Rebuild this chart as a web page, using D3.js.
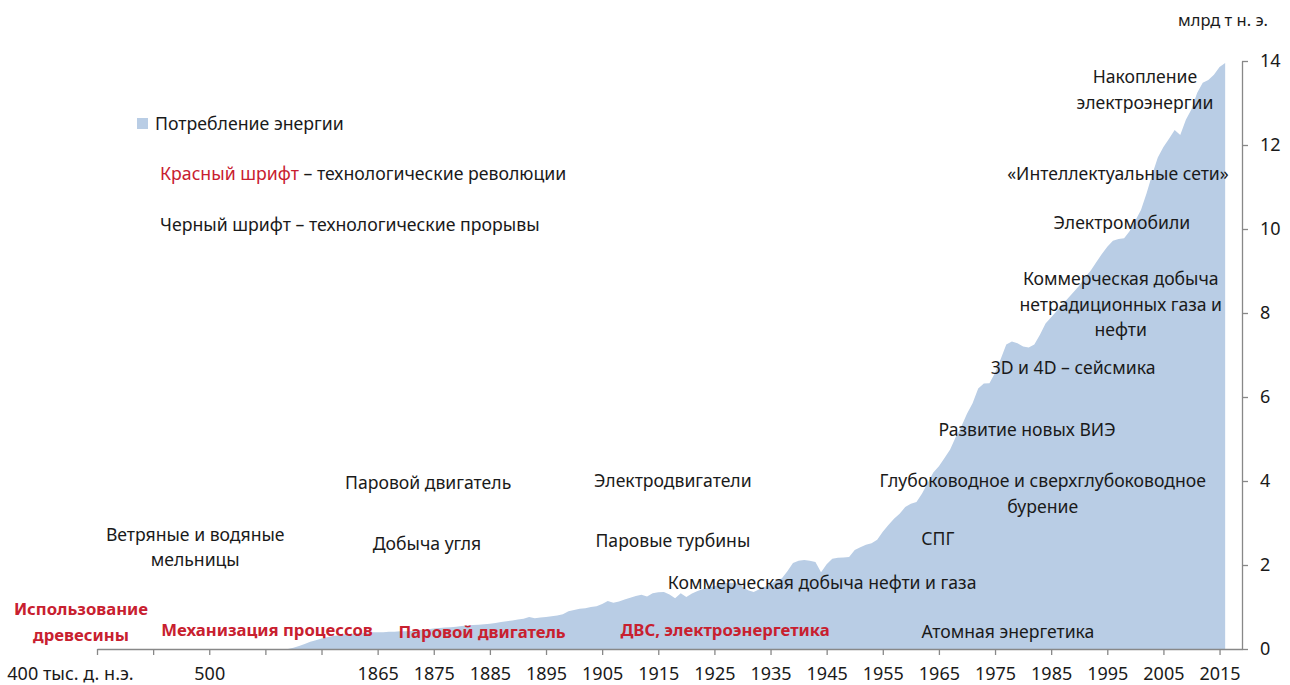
<!DOCTYPE html>
<html lang="ru">
  <head>
    <meta charset="utf-8"/>
    <script src="https://d3js.org/d3.v7.min.js"></script>
    <title>Потребление энергии</title>
    <style>
      body { margin: 0; background: #fff; }
      text { font-family: "Noto Sans", sans-serif; }
    </style>
  </head>
  <body>
    <svg id="chart"></svg>
    <script>
      const width = 1290;
      const height = 685;

      // labels of the compressed pre-1865 part (one per tick)
      const eraLabels = ["400 тыс. д. н.э.", "", "500", "", ""];
      const firstYear = 1865;
      const lastYear = 2016;

      // compressed pre-1865 part of the series, млрд т н. э.
      const preValues = [
        0, 0, 0, 0, 0, 0, 0, 0, 0, 0,
        0, 0, 0, 0, 0, 0, 0, 0, 0, 0,
        0, 0, 0, 0, 0, 0, 0, 0, 0, 0,
        0, 0, 0, 0, 0, 0.03, 0.07, 0.12, 0.17, 0.21,
        0.25, 0.28, 0.31, 0.33, 0.35, 0.36, 0.37, 0.38, 0.39, 0.40
      ];

      // yearly values 1865..2016, млрд т н. э.
      const yearValues = [
        0.40, 0.40, 0.41, 0.41, 0.42, 0.42, 0.43, 0.45, 0.46, 0.47,   // 1865-1874
        0.49, 0.50, 0.51, 0.52, 0.53, 0.55, 0.56, 0.57, 0.58, 0.59,   // 1875-1884
        0.60, 0.62, 0.64, 0.66, 0.68, 0.70, 0.72, 0.76, 0.73, 0.75,   // 1885-1894
        0.76, 0.78, 0.80, 0.83, 0.90, 0.93, 0.96, 0.97, 1.00, 1.02,   // 1895-1904
        1.07, 1.14, 1.10, 1.13, 1.18, 1.22, 1.26, 1.29, 1.25, 1.33,   // 1905-1914
        1.35, 1.36, 1.30, 1.21, 1.33, 1.24, 1.32, 1.38, 1.43, 1.46,   // 1915-1924
        1.50, 1.53, 1.57, 1.58, 1.56, 1.48, 1.40, 1.36, 1.42, 1.48,   // 1925-1934
        1.55, 1.63, 1.68, 1.85, 2.05, 2.10, 2.12, 2.10, 2.07, 1.83,   // 1935-1944
        2.02, 2.15, 2.17, 2.18, 2.19, 2.36, 2.42, 2.48, 2.52, 2.60,   // 1945-1954
        2.79, 2.95, 3.10, 3.22, 3.38, 3.46, 3.50, 3.70, 3.95, 4.20,   // 1955-1964
        4.35, 4.55, 4.75, 5.05, 5.30, 5.60, 5.85, 6.20, 6.32, 6.33,   // 1965-1974
        6.57, 6.90, 7.25, 7.32, 7.28, 7.20, 7.18, 7.25, 7.48, 7.75,   // 1975-1984
        7.90, 8.05, 8.20, 8.35, 8.50, 8.65, 8.85, 9.00, 9.20, 9.40,   // 1985-1994
        9.58, 9.72, 9.76, 9.78, 9.95, 10.20, 10.45, 10.85, 11.30, 11.70, // 1995-2004
        11.95, 12.15, 12.36, 12.24, 12.60, 12.85, 13.24, 13.48, 13.55, 13.67, // 2005-2014
        13.86, 13.95                                                  // 2015-2016
      ];

      const yTicks = [0, 2, 4, 6, 8, 10, 12, 14];
      const unitLabel = "млрд т н. э.";
      const seriesName = "Потребление энергии";

      // annotations: cat = category index, value = height on the value axis
      const revolutions = [
        { lines: ["Использование", "древесины"], cat: -2.85, value: 0.93 },
        { lines: ["Механизация процессов"], cat: 30.3, value: 0.45 },
        { lines: ["Паровой двигатель"], cat: 68.6, value: 0.40 },
        { lines: ["ДВС, электроэнергетика"], cat: 111.9, value: 0.45 }
      ];
      const breakthroughs = [
        { lines: ["Ветряные и водяные", "мельницы"], cat: 17.5, value: 2.71 },
        { lines: ["Паровой двигатель"], cat: 59.0, value: 3.95 },
        { lines: ["Добыча угля"], cat: 58.8, value: 2.48 },
        { lines: ["Электродвигатели"], cat: 102.6, value: 4.00 },
        { lines: ["Паровые турбины"], cat: 102.6, value: 2.55 },
        { lines: ["Коммерческая добыча нефти и газа"], cat: 129.2, value: 1.57 },
        { lines: ["Атомная энергетика"], cat: 162.3, value: 0.40 },
        { lines: ["СПГ"], cat: 149.8, value: 2.60 },
        { lines: ["Глубоководное и сверхглубоководное", "бурение"], cat: 168.5, value: 3.98 },
        { lines: ["Развитие новых ВИЭ"], cat: 165.7, value: 5.21 },
        { lines: ["3D и 4D – сейсмика"], cat: 173.9, value: 6.69 },
        { lines: ["Коммерческая добыча", "нетрадиционных газа и", "нефти"], cat: 182.4, value: 8.79 },
        { lines: ["Электромобили"], cat: 182.6, value: 10.14 },
        { lines: ["«Интеллектуальные сети»"], cat: 181.9, value: 11.29 },
        { lines: ["Накопление", "электроэнергии"], cat: 186.7, value: 13.60 }
      ];

      const areaColor = "#b9cde5";
      const redColor = "#c8202f";
      const textColor = "#1a1a1a";
      const axisColor = "#888888";

      // build the category series
      const values = preValues.concat(yearValues);
      const data = values.map((v, i) => ({ cat: i, value: v }));

      const nPre = preValues.length;
      function catLabel(i) {
        if (i < nPre) return eraLabels[i / 10] || "";
        return String(firstYear + i - nPre);
      }

      const xScale = d3.scaleLinear()
          .domain([0, 204])
          .range([97, 1242]);

      const yScale = d3.scaleLinear()
          .domain([0, 14])
          .range([649, 61]);

      const svg = d3.select("#chart")
          .attr("width", width)
          .attr("height", height);

      // area
      const area = d3.area()
          .x(d => xScale(d.cat))
          .y0(yScale(0))
          .y1(d => yScale(d.value));

      svg.append("path")
          .datum(data)
          .attr("fill", areaColor)
          .attr("d", area);

      // x axis
      const xAxis = d3.axisBottom(xScale)
          .tickValues(d3.range(0, values.length, 10))
          .tickFormat(catLabel)
          .tickSize(6)
          .tickSizeOuter(0)
          .tickPadding(12);

      const xAxis_g = svg.append("g")
          .attr("transform", "translate(0," + yScale(0) + ")")
          .call(xAxis);

      xAxis_g.selectAll("text")
          .style("font-size", "18px")
          .attr("fill", textColor)
          .filter(d => d === 0)
          .attr("dx", -27);

      // y axis on the right
      const yAxis = d3.axisRight(yScale)
          .tickValues(yTicks)
          .tickSize(6)
          .tickSizeOuter(0)
          .tickPadding(12);

      const yAxis_g = svg.append("g")
          .attr("transform", "translate(" + xScale.range()[1] + ",0)")
          .call(yAxis);

      yAxis_g.selectAll("text")
          .style("font-size", "18px")
          .attr("fill", textColor);

      svg.selectAll(".domain, .tick line")
          .attr("stroke", axisColor)
          .attr("stroke-width", 1.3);

      // unit label
      svg.append("text")
          .attr("x", 1268)
          .attr("y", 19.5)
          .attr("text-anchor", "end")
          .attr("dominant-baseline", "central")
          .style("font-size", "16.5px")
          .attr("fill", textColor)
          .text(unitLabel);

      // legend
      const legendSize = "17.7px";
      const legend = svg.append("g");
      legend.append("rect")
          .attr("x", 137).attr("y", 118)
          .attr("width", 11).attr("height", 11)
          .attr("fill", areaColor);
      legend.append("text")
          .attr("x", 155).attr("y", 122.5)
          .attr("dominant-baseline", "central")
          .style("font-size", legendSize)
          .attr("fill", textColor)
          .text(seriesName);

      const l2 = legend.append("text")
          .attr("x", 160).attr("y", 172.5)
          .attr("dominant-baseline", "central")
          .style("font-size", legendSize)
          .attr("fill", textColor);
      l2.append("tspan").attr("fill", redColor).text("Красный шрифт");
      l2.append("tspan").text(" – технологические революции");

      legend.append("text")
          .attr("x", 160).attr("y", 223.5)
          .attr("dominant-baseline", "central")
          .style("font-size", legendSize)
          .attr("fill", textColor)
          .text("Черный шрифт – технологические прорывы");

      // annotations
      const lineStep = 25.5;

      function drawNotes(list, color, weight, size) {
        const g = svg.append("g");
        list.forEach(function(d) {
          const t = g.append("text")
              .attr("text-anchor", "middle")
              .attr("dominant-baseline", "central")
              .style("font-size", size)
              .style("font-weight", weight)
              .attr("fill", color);
          d.lines.forEach(function(line, k) {
            t.append("tspan")
                .attr("x", xScale(d.cat))
                .attr("y", yScale(d.value) + k * lineStep - 1.5)
                .text(line);
          });
        });
      }

      drawNotes(breakthroughs, textColor, 400, "17.6px");
      drawNotes(revolutions, redColor, 700, "16.7px");
    </script>
  </body>
</html>
